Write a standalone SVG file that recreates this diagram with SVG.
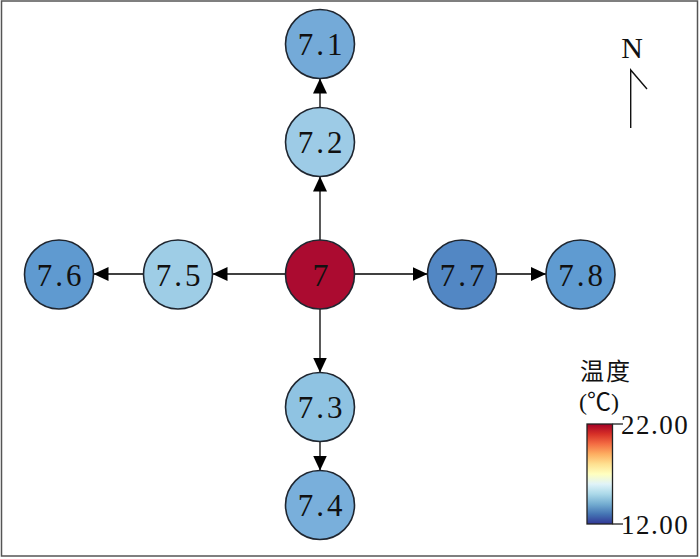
<svg xmlns="http://www.w3.org/2000/svg" width="700" height="559" viewBox="0 0 700 559">
<style>
.node circle{stroke:#1f2630;stroke-width:1.6}
.node text{font-family:"Liberation Serif","Times New Roman",serif;font-size:31px;fill:#111;text-anchor:middle;letter-spacing:3px}
.edge{stroke:#000;stroke-width:1.3;fill:none}
.lbl{font-family:"Liberation Serif","Noto Sans CJK SC",serif;fill:#111}
</style>
<defs>
<marker id="arr" markerUnits="userSpaceOnUse" markerWidth="16" markerHeight="15" refX="15" refY="7" orient="auto" viewBox="0 0 16 14">
<path d="M0,0 L15,7 L0,14 z" fill="#000"/>
</marker>
<linearGradient id="cbar" x1="0" y1="0" x2="0" y2="1">
<stop offset="0" stop-color="#a50026"/>
<stop offset="0.1" stop-color="#d73027"/>
<stop offset="0.2" stop-color="#f46d43"/>
<stop offset="0.3" stop-color="#fdae61"/>
<stop offset="0.4" stop-color="#fee090"/>
<stop offset="0.5" stop-color="#ffffbf"/>
<stop offset="0.6" stop-color="#e0f3f8"/>
<stop offset="0.7" stop-color="#abd9e9"/>
<stop offset="0.8" stop-color="#74add1"/>
<stop offset="0.9" stop-color="#4575b4"/>
<stop offset="1" stop-color="#313695"/>
</linearGradient>
</defs>
<rect x="0" y="0" width="700" height="559" fill="#fff"/>
<rect x="1.5" y="1" width="696" height="555" fill="none" stroke="#555" stroke-width="1.5"/>
<g id="connectors">
<line class="edge" x1="320" y1="240" x2="320" y2="176.5" marker-end="url(#arr)"/>
<line class="edge" x1="320" y1="107" x2="320" y2="78.5" marker-end="url(#arr)"/>
<line class="edge" x1="320" y1="309" x2="320" y2="372.5" marker-end="url(#arr)"/>
<line class="edge" x1="320" y1="441.5" x2="320" y2="470.5" marker-end="url(#arr)"/>
<line class="edge" x1="285.5" y1="274" x2="212.5" y2="274" marker-end="url(#arr)"/>
<line class="edge" x1="143.5" y1="274" x2="93.5" y2="274" marker-end="url(#arr)"/>
<line class="edge" x1="354.5" y1="274" x2="427.5" y2="274" marker-end="url(#arr)"/>
<line class="edge" x1="496.5" y1="274" x2="546" y2="274" marker-end="url(#arr)"/>
</g>
<g id="n7_1" class="node"><circle cx="320" cy="44" r="34.5" fill="#74aad8"/><text x="321.5" y="55">7.1</text></g>
<g id="n7_2" class="node"><circle cx="320" cy="142" r="34.5" fill="#9dcbe6"/><text x="321.5" y="153">7.2</text></g>
<g id="n7" class="node"><circle cx="320" cy="274.5" r="34.5" fill="#ab0b30"/><text x="322" y="285.5" style="font-size:32px">7</text></g>
<g id="n7_3" class="node"><circle cx="320" cy="407" r="34.5" fill="#8fc3e2"/><text x="321.5" y="418">7.3</text></g>
<g id="n7_4" class="node"><circle cx="320" cy="505" r="34.5" fill="#79afdb"/><text x="321.5" y="516">7.4</text></g>
<g id="n7_5" class="node"><circle cx="178" cy="274.5" r="34.5" fill="#9ecde6"/><text x="179.5" y="285.5">7.5</text></g>
<g id="n7_6" class="node"><circle cx="59" cy="274.5" r="34.5" fill="#5f9ad0"/><text x="60.5" y="285.5">7.6</text></g>
<g id="n7_7" class="node"><circle cx="462" cy="274.5" r="34.5" fill="#5287c4"/><text x="463.5" y="285.5">7.7</text></g>
<g id="n7_8" class="node"><circle cx="580.5" cy="274.5" r="34.5" fill="#5f9bd1"/><text x="582" y="285.5">7.8</text></g>
<g id="north">
<text class="lbl" x="632" y="58" text-anchor="middle" font-size="30">N</text>
<path d="M630.7,128 L630.7,70 L647,89" fill="none" stroke="#111" stroke-width="1.4"/>
</g>
<g id="legend">
<text class="lbl" x="580" y="380" font-size="24" font-family="'Noto Sans CJK SC',sans-serif" letter-spacing="2">温度</text>
<text class="lbl" x="579" y="410" font-size="24">(℃)</text>
<rect x="587" y="424" width="25.5" height="100" fill="url(#cbar)" stroke="#222" stroke-width="1.3"/>
<line x1="612.5" y1="424" x2="623" y2="424" stroke="#222" stroke-width="1.3"/>
<line x1="612.5" y1="524" x2="623" y2="524" stroke="#222" stroke-width="1.3"/>
<text class="lbl" x="621" y="434" font-size="27" letter-spacing="1.5">22.00</text>
<text class="lbl" x="621" y="534" font-size="27" letter-spacing="1.5">12.00</text>
</g>
</svg>
